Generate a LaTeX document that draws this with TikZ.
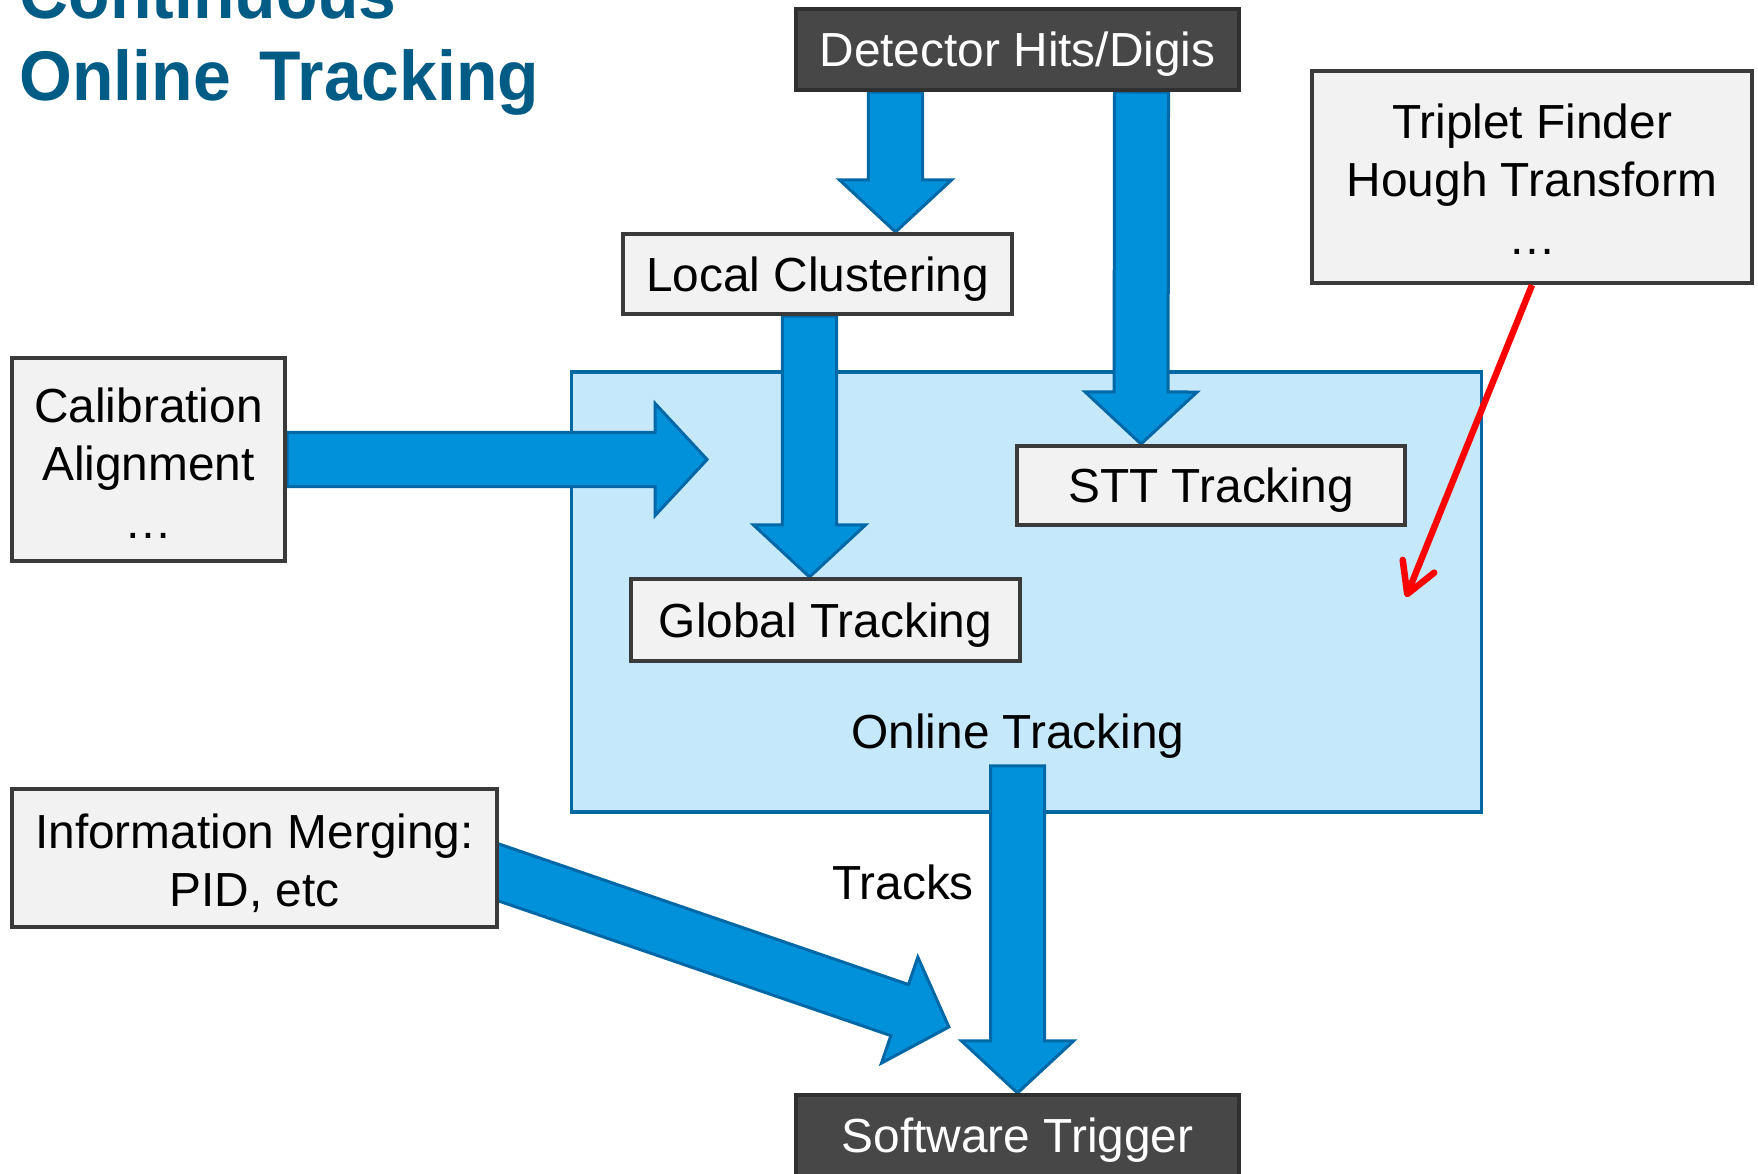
\documentclass[tikz,border=0pt]{standalone}
\usepackage{fontspec}
\setmainfont{Liberation Sans}
\usetikzlibrary{calc, arrows.meta}

\definecolor{titleblue}{HTML}{005B85}
\definecolor{arrowfill}{HTML}{0091DA}
\definecolor{arrowline}{HTML}{0068A6}
\definecolor{onlinefill}{HTML}{C5E9FB}
\definecolor{onlineline}{HTML}{0069A3}
\definecolor{boxfill}{HTML}{F2F2F2}
\definecolor{boxline}{HTML}{3A3A3A}
\definecolor{darkfill}{HTML}{474747}
\definecolor{darkline}{HTML}{303030}

\pgfdeclarelayer{back}
\pgfdeclarelayer{mid}
\pgfsetlayers{back,mid,main}

\newcommand{\diagfont}{\fontsize{13.6}{16.5}\selectfont}
\newcommand{\topstrut}[1]{\rule{0pt}{#1}}

% block arrow from #1 to #2 (tip)
\newcommand{\fatarrow}[2]{%
  \path (#1) coordinate (fa-s) (#2) coordinate (fa-e);
  \coordinate (fa-b) at ($(fa-e)!0.52cm!(fa-s)$);
  \draw[fatarrow] ($(fa-s)!0.27cm!90:(fa-e)$) -- ($(fa-b)!0.27cm!90:(fa-e)$)
    -- ($(fa-b)!0.56cm!90:(fa-e)$) -- (fa-e) -- ($(fa-b)!0.56cm!-90:(fa-e)$)
    -- ($(fa-b)!0.27cm!-90:(fa-e)$) -- ($(fa-s)!0.27cm!-90:(fa-e)$) -- cycle;
}

\tikzset{
  box/.style={draw=boxline, fill=boxfill, line width=0.04cm, font=\diagfont,
    align=center, inner sep=0pt},
  darkbox/.style={draw=darkline, fill=darkfill, line width=0.04cm, font=\diagfont,
    text=white, inner sep=0pt},
  oneline/.style={text height=9.7pt, text depth=0pt},
  title/.style={font=\bfseries\fontsize{20}{24}\selectfont, text=titleblue,
    inner sep=0pt, anchor=base west},
  fatarrow/.style={fill=arrowfill, draw=arrowline, line width=0.03cm},
  redarrow/.style={draw=red, line width=0.065cm,
    -{Straight Barb[length=0.3cm, width=0.34cm, round]}},
  plain/.style={font=\diagfont, inner sep=0pt}
}

\begin{document}
\begin{tikzpicture}[x=0.01cm, y=-0.01cm]
    \useasboundingbox (0,0) rectangle (1758,1174);

    % title
    \node[title] (title1) at (19,19) {\scalebox{0.965}[1]{Continuous}};
    \node[title] (title2) at (19,101) {\scalebox{0.965}[1]{Online\hspace{0.3cm}Tracking}};

    % online tracking area
    \begin{pgfonlayer}{back}
        \node[draw=onlineline, fill=onlinefill, line width=0.035cm,
            minimum width=9.09cm, minimum height=4.40cm] (online) at (1026.5,592) {};
    \end{pgfonlayer}
    \node[plain, oneline] (otlabel) at (1018,731) {Online Tracking};

    % boxes
    \node[darkbox, oneline, minimum width=4.43cm, minimum height=0.81cm] (det) at (1017.5,49.5) {Detector Hits/Digis};
    \node[darkbox, oneline, minimum width=4.43cm, minimum height=0.81cm] (trig) at (1017.5,1135.5) {Software Trigger};
    \node[box, oneline, minimum width=3.89cm, minimum height=0.80cm] (lc) at (817.5,274) {Local Clustering};
    \node[box, oneline, minimum width=3.89cm, minimum height=0.82cm] (glob) at (825.5,620) {Global Tracking};
    \node[box, oneline, minimum width=3.88cm, minimum height=0.79cm] (stt) at (1211,485.5) {STT Tracking};
    \node[box, minimum width=2.73cm, minimum height=2.03cm] (calib) at (148.5,459.5) {\topstrut{11.9pt}Calibration\\Alignment\\\ldots};
    \node[box, minimum width=4.40cm, minimum height=2.12cm] (triplet) at (1532,177) {\topstrut{11.2pt}Triplet Finder\\Hough Transform\\\ldots};
    \node[box, minimum width=4.85cm, minimum height=1.38cm] (info) at (254.5,858) {\topstrut{13.1pt}Information Merging:\\PID, etc};

    \node[plain, oneline] (tracks) at (903,882) {Tracks};

    % block arrows
    \begin{pgfonlayer}{mid}
        \fatarrow{$(det.south)+(-122,0)$}{$(lc.north)+(78,0)$}
        \fatarrow{$(det.south)+(124,0)$}{$(stt.north)+(-70,0)$}
        \fatarrow{$(lc.south)+(-8,0)$}{$(glob.north)+(-16,0)$}
        \fatarrow{calib.east}{$(calib.east)+(420,0)$}
        \fatarrow{$(otlabel.center -| trig.north)+(0,35)$}{trig.north}
        \fatarrow{$(info.east)+(-28,5)$}{$(trig.north west)+(155,-66)$}
    \end{pgfonlayer}

    % red arrow
    \coordinate (tftip) at ($(online.north east)+(-77,227)$);
    \draw[redarrow] (triplet.south) -- (tftip);
\end{tikzpicture}
\end{document}
